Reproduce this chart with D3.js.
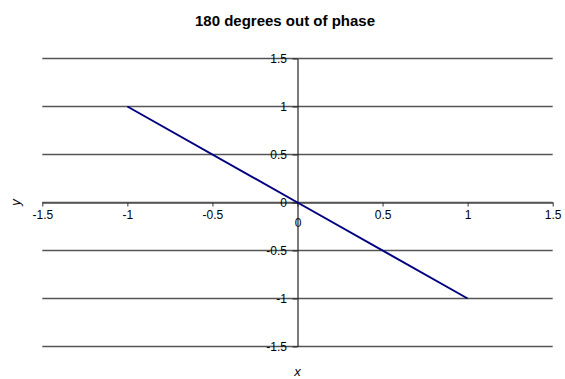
<!DOCTYPE html>
<html><head><meta charset="utf-8">
<script src="https://cdn.jsdelivr.net/npm/d3@7"></script>
<style>body{margin:0;background:#fff}svg{display:block}text{font-family:"Liberation Sans",Arial,sans-serif}</style>
</head><body>
<svg id="c" width="565" height="379"></svg>
<script>
const title = "180 degrees out of phase";
const xTicks = [-1.5, -1, -0.5, 0, 0.5, 1, 1.5];
const yTicks = [-1.5, -1, -0.5, 0, 0.5, 1, 1.5];
const xValues = [-1, 0, 1];
const yValues = [1, 0, -1];

const svg = d3.select("#c");
const x = d3.scaleLinear().domain([-1.5, 1.5]).range([42.3, 552.7]);
const y = d3.scaleLinear().domain([-1.5, 1.5]).range([346.5, 58.5]);
const fmt = d => String(d);
const FF = "Liberation Sans, Arial, sans-serif";

// gridlines
svg.append("g").selectAll("line").data(yTicks).join("line")
  .attr("x1", x(-1.5)).attr("x2", x(1.5))
  .attr("y1", d => y(d)).attr("y2", d => y(d))
  .attr("stroke", "#555").attr("stroke-width", 1.4);

// x axis at y=0
const xa = svg.append("g").attr("transform", `translate(0,${y(0)})`)
  .call(d3.axisBottom(x).tickValues(xTicks).tickFormat(fmt).tickSize(4).tickPadding(3.5).tickSizeOuter(0));
xa.select(".domain").attr("stroke", "#555").attr("stroke-width", 1.4);
xa.selectAll(".tick line").attr("stroke", "#333");
xa.selectAll("text").attr("font-size", 12).attr("fill", "#000").attr("font-family", FF);
xa.selectAll(".tick").filter(d => d === 0).select("text").attr("y", 15.5);

// y axis at x=0
const ya = svg.append("g").attr("transform", `translate(${x(0)},0)`)
  .call(d3.axisLeft(y).tickValues(yTicks).tickFormat(fmt).tickSize(5).tickPadding(5.5).tickSizeOuter(0));
ya.select(".domain").attr("stroke", "#222").attr("stroke-width", 1.2);
ya.selectAll(".tick line").attr("stroke", "#222");
ya.selectAll("text").attr("font-size", 12).attr("fill", "#000").attr("font-family", FF);

// data line
const pts = xValues.map((v, i) => [v, yValues[i]]);
svg.append("path").datum(pts)
  .attr("d", d3.line().x(d => x(d[0])).y(d => y(d[1])))
  .attr("fill", "none").attr("stroke", "#000080").attr("stroke-width", 2);

// title
svg.append("text").attr("x", 285).attr("y", 26).attr("text-anchor", "middle")
  .attr("font-size", 15).attr("font-weight", "bold").text(title);
// axis titles
svg.append("text").attr("x", x(0)).attr("y", 376).attr("text-anchor", "middle")
  .attr("font-size", 13).attr("font-style", "italic").text("x");
svg.append("text").attr("transform", `translate(20,${y(0)}) rotate(-90)`).attr("text-anchor", "middle")
  .attr("font-size", 13).attr("font-style", "italic").text("y");
</script>
</body></html>
